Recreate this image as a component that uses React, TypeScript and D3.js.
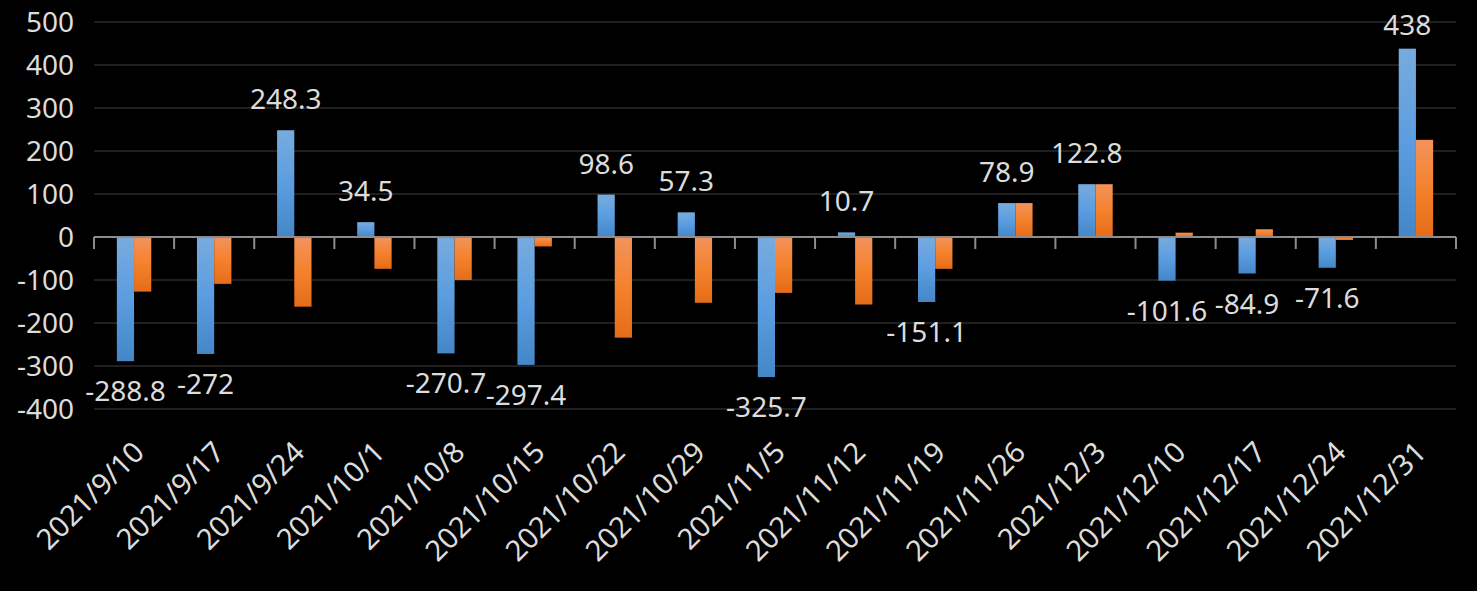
import React from "react";
import * as d3 from "d3";

const categories = [
  "2021/9/10", "2021/9/17", "2021/9/24", "2021/10/1", "2021/10/8", "2021/10/15",
  "2021/10/22", "2021/10/29", "2021/11/5", "2021/11/12", "2021/11/19", "2021/11/26",
  "2021/12/3", "2021/12/10", "2021/12/17", "2021/12/24", "2021/12/31",
];
const seriesA = [-288.8, -272, 248.3, 34.5, -270.7, -297.4, 98.6, 57.3, -325.7, 10.7, -151.1, 78.9, 122.8, -101.6, -84.9, -71.6, 438];
const seriesB = [-127, -109, -162, -74, -100, -22, -234, -153, -130, -157, -74, 78.9, 122.8, 10, 18, -7, 226];
const yTicks = [500, 400, 300, 200, 100, 0, -100, -200, -300, -400];

const W = 1477;
const H = 591;
const FONT = "'Noto Sans', 'Segoe UI', sans-serif";
const TEXT = "#dcdcdc";

export default function App() {
  const left = 94;
  const right = 1456;
  const y = d3.scaleLinear().domain([-400, 500]).range([409, 22]);
  const x = d3.scaleBand<string>().domain(categories).range([left, right]).paddingInner(0).paddingOuter(0);
  const bw = x.bandwidth();
  const barW = bw * 0.2148;
  const gapSide = (bw - 2 * barW) / 2;
  const y0 = y(0);

  return (
    <svg width={W} height={H} style={{ position: "absolute", left: 0, top: 0, background: "#000" }} fontFamily={FONT}>
      <defs>
        <linearGradient id="gBlue" x1="0" y1="0" x2="0" y2="1">
          <stop offset="0" stopColor="#78abde" />
          <stop offset="0.5" stopColor="#5b9de0" />
          <stop offset="1" stopColor="#4487c8" />
        </linearGradient>
        <linearGradient id="gOrange" x1="0" y1="0" x2="0" y2="1">
          <stop offset="0" stopColor="#f3935b" />
          <stop offset="0.5" stopColor="#f5812d" />
          <stop offset="1" stopColor="#e56c18" />
        </linearGradient>
      </defs>
      <rect x={0} y={0} width={W} height={H} fill="#000" />
      {/* gridlines */}
      {yTicks.filter((t) => t !== 0).map((t) => (
        <line key={t} x1={left} x2={right} y1={y(t)} y2={y(t)} stroke="#2a2a2a" strokeWidth={1.6} />
      ))}
      {/* y tick labels */}
      {yTicks.map((t) => (
        <text key={"l" + t} x={74} y={y(t) + 10} textAnchor="end" fontSize={28} fill={TEXT}>
          {t}
        </text>
      ))}
      {/* bars */}
      {categories.map((c, i) => {
        const bx = (x(c) as number) + gapSide;
        const a = seriesA[i];
        const b = seriesB[i];
        return (
          <g key={c}>
            <rect x={bx} y={Math.min(y(a), y0)} width={barW} height={Math.abs(y(a) - y0)} fill="url(#gBlue)" />
            <rect x={bx + barW} y={Math.min(y(b), y0)} width={barW} height={Math.abs(y(b) - y0)} fill="url(#gOrange)" />
          </g>
        );
      })}
      {/* axis line and ticks */}
      <line x1={left} x2={right} y1={y0} y2={y0} stroke="#8c8c8c" strokeWidth={2} />
      {d3.range(categories.length + 1).map((k) => {
        const tx = left + k * bw;
        return <line key={"t" + k} x1={tx} x2={tx} y1={y0} y2={y0 + 12} stroke="#8c8c8c" strokeWidth={2} />;
      })}
      {/* data labels */}
      {categories.map((c, i) => {
        const a = seriesA[i];
        const cx = (x(c) as number) + gapSide + barW / 2;
        const by = a >= 0 ? Math.max(y(a) - 21, 35) : y(a) + 40;
        return (
          <text key={"d" + c} x={cx} y={by} textAnchor="middle" fontSize={28} fill={TEXT}>
            {String(a)}
          </text>
        );
      })}
      {/* x labels */}
      {categories.map((c) => {
        const cx = (x(c) as number) + bw / 2 + 12;
        const cy = 454;
        return (
          <text key={"x" + c} x={cx} y={cy} textAnchor="end" fontSize={29} fill={TEXT} transform={`rotate(-45 ${cx} ${cy})`}>
            {c}
          </text>
        );
      })}
    </svg>
  );
}
